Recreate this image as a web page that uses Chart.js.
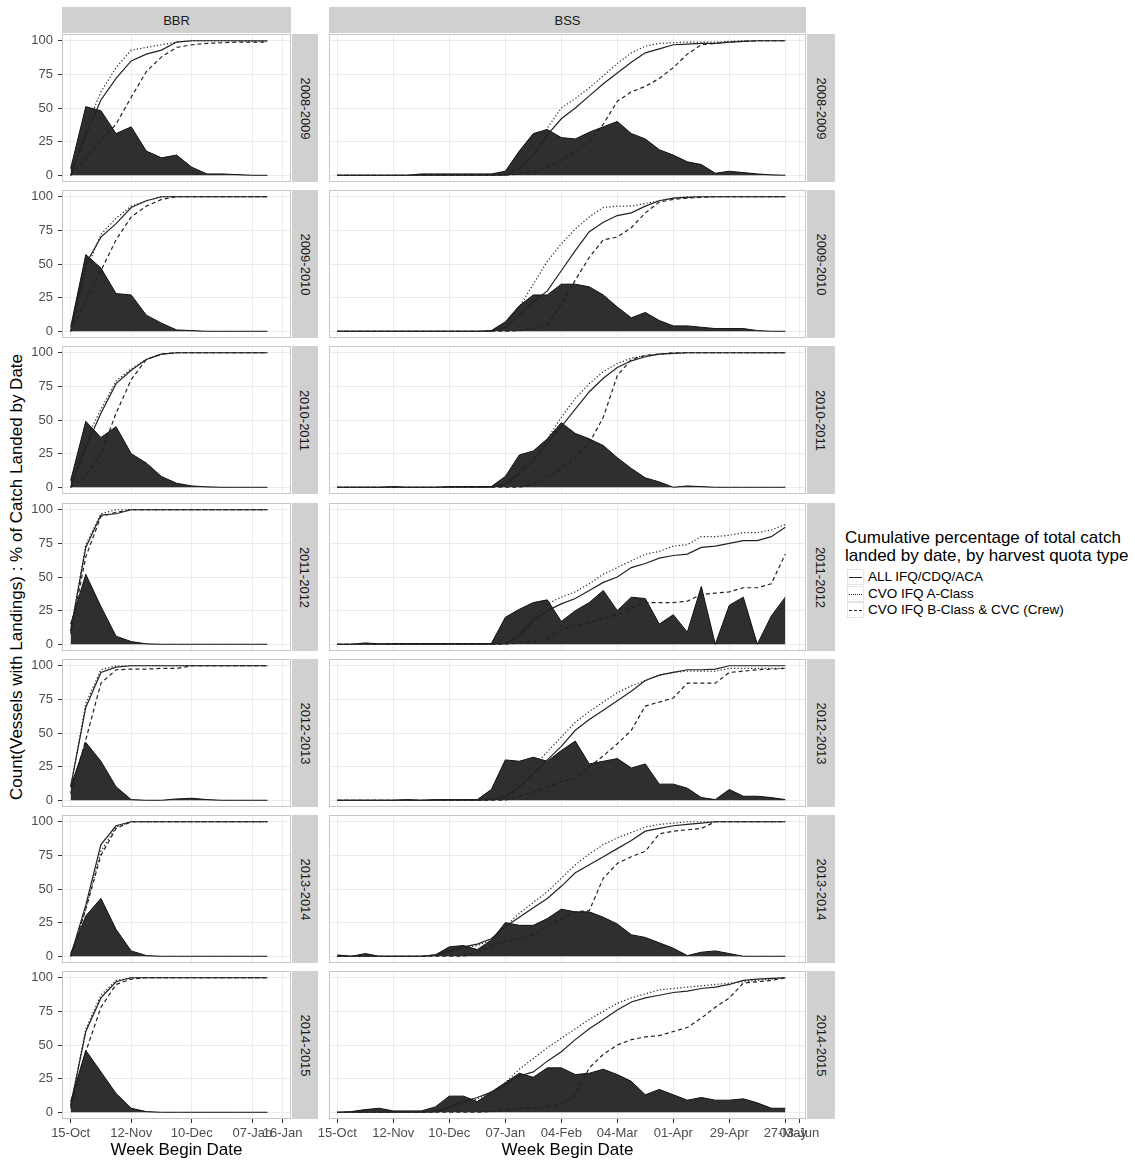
<!DOCTYPE html>
<html>
<head>
<meta charset="utf-8">
<script src="https://cdn.jsdelivr.net/npm/chart.js@4.4.0/dist/chart.umd.min.js"></script>
<style>
  body { margin: 0; background: #fff; font-family: 'Liberation Sans', Arial, Helvetica, sans-serif; }
  #page { position: relative; width: 1135px; height: 1161px; overflow: hidden; background: #fff; }
  #page canvas { position: absolute; }
  .strip { position: absolute; background: #d0d0d0; color: #1a1a1a; font-size: 13px;
           display: flex; align-items: center; justify-content: center; }
  .strip.right span { display: block; transform: rotate(90deg); white-space: nowrap; }
  .frame { position: absolute; border: 1px solid #c6c6c6; box-sizing: border-box; pointer-events: none; }
  #ytitle { position: absolute; left: 17px; top: 577px; font-size: 17px; color: #000; white-space: nowrap;
            transform: translate(-50%, -50%) rotate(-90deg); }
  #legend { position: absolute; left: 845px; top: 529px; color: #000; }
  #legend .ltitle { font-size: 17px; line-height: 18px; margin-bottom: 4px; }
  #legend .item { position: relative; height: 16.7px; font-size: 13.5px; line-height: 16.7px; padding-left: 23px; }
  #legend .key { position: absolute; left: 2px; top: 0; width: 17px; height: 16px; border: 1px solid #e4e4e4; box-sizing: border-box; }
  #legend .key i { position: absolute; left: 1px; right: 1px; top: 7px; height: 0; border-top-width: 1.3px; border-top-color: #262626; }
</style>
</head>
<body>
<div id="page">
  <div id="ytitle">Count(Vessels with Landings) : % of Catch Landed by Date</div>
  <div id="legend">
    <div class="ltitle">Cumulative percentage of total catch<br>landed by date, by harvest quota type</div>
    <div class="item"><span class="key"><i style="border-top-style: solid"></i></span>ALL IFQ/CDQ/ACA</div>
    <div class="item"><span class="key"><i style="border-top-style: dotted"></i></span>CVO IFQ A-Class</div>
    <div class="item"><span class="key"><i style="border-top-style: dashed"></i></span>CVO IFQ B-Class &amp; CVC (Crew)</div>
  </div>
</div>
<script>
Chart.defaults.font.family = "'Liberation Sans', Arial, Helvetica, sans-serif";

const seasons = ['2008-2009', '2009-2010', '2010-2011', '2011-2012', '2012-2013', '2013-2014', '2014-2015'];

// week begin dates, as days after 15-Oct
const bbrDays = [0, 7, 14, 21, 28, 35, 42, 49, 56, 63, 70, 77, 84, 91];
const bssDays = [0, 7, 14, 21, 28, 35, 42, 49, 56, 63, 70, 77, 84, 91, 98, 105, 112, 119, 126, 133,
                 140, 147, 154, 161, 168, 175, 182, 189, 196, 203, 210, 217, 224];

const bbrTickDays = [0, 28, 56, 84, 98];
const bbrTickLabels = ['15-Oct', '12-Nov', '10-Dec', '07-Jan', '16-Jan'];
const bssTickDays = [0, 28, 56, 84, 112, 140, 168, 196, 224, 231];
const bssTickLabels = ['15-Oct', '12-Nov', '10-Dec', '07-Jan', '04-Feb', '04-Mar', '01-Apr', '29-Apr', '27-May', '03-Jun'];
const yTicks = [0, 25, 50, 75, 100];

// BBR, one row per season
const bbrVessels = [
  [5, 51, 48, 31, 36, 18, 13, 15, 6, 1, 1, 0.5, 0, 0],
  [3, 57, 47, 28, 27, 12, 6, 1, 0.5, 0, 0, 0, 0, 0],
  [5, 49, 37, 45, 25, 18, 8, 3, 1, 0.3, 0, 0, 0, 0],
  [15, 52, 28, 6, 2, 0.3, 0, 0, 0, 0, 0, 0, 0, 0],
  [10, 43, 29, 10, 0.5, 0, 0, 1, 1.5, 0.5, 0, 0, 0, 0],
  [2, 30, 43, 20, 4, 0.5, 0, 0, 0, 0, 0, 0, 0, 0],
  [8, 46, 30, 14, 3, 0.5, 0, 0, 0, 0, 0, 0, 0, 0]
];
const bbrAll = [
  [0, 30, 56, 72, 85, 90, 93, 99, 100, 100, 100, 100, 100, 100],
  [0, 50, 70, 80, 92, 97, 100, 100, 100, 100, 100, 100, 100, 100],
  [0, 30, 55, 77, 87, 95, 99, 100, 100, 100, 100, 100, 100, 100],
  [10, 72, 96, 97, 100, 100, 100, 100, 100, 100, 100, 100, 100, 100],
  [10, 69, 95, 99, 100, 100, 100, 100, 100, 100, 100, 100, 100, 100],
  [0, 38, 83, 97, 100, 100, 100, 100, 100, 100, 100, 100, 100, 100],
  [5, 60, 85, 97, 100, 100, 100, 100, 100, 100, 100, 100, 100, 100]
];
const bbrClassA = [
  [0, 35, 62, 80, 93, 95, 97, 99, 100, 100, 100, 100, 99.5, 99.5],
  [0, 45, 72, 84, 93, 97, 100, 100, 100, 100, 100, 100, 100, 100],
  [0, 35, 58, 79, 88, 95, 99, 100, 100, 100, 100, 100, 100, 100],
  [10, 74, 97, 100, 100, 100, 100, 100, 100, 100, 100, 100, 100, 100],
  [10, 72, 97, 100, 100, 100, 100, 100, 100, 100, 100, 100, 100, 100],
  [0, 35, 78, 96, 100, 100, 100, 100, 100, 100, 100, 100, 100, 100],
  [5, 62, 87, 98, 100, 100, 100, 100, 100, 100, 100, 100, 100, 100]
];
const bbrClassB = [
  [0, 13, 26, 38, 58, 77, 88, 95, 97, 98, 98.5, 99, 99, 99],
  [0, 22, 45, 68, 85, 93, 98, 100, 100, 100, 100, 100, 100, 100],
  [0, 8, 25, 55, 80, 95, 99, 100, 100, 100, 100, 100, 100, 100],
  [8, 65, 95, 98, 100, 100, 100, 100, 100, 100, 100, 100, 100, 100],
  [5, 45, 87, 97, 97.5, 97.5, 98, 98, 100, 100, 100, 100, 100, 100],
  [0, 35, 75, 95, 100, 100, 100, 100, 100, 100, 100, 100, 100, 100],
  [3, 45, 78, 95, 99, 100, 100, 100, 100, 100, 100, 100, 100, 100]
];

// BSS, one row per season
const bssVessels = [
  [0, 0, 0, 0, 0, 0, 1, 1, 1, 1, 1, 1, 3, 18, 31, 34, 28, 27, 32, 36, 40, 31, 27, 19, 15, 10, 8, 1.5, 3, 2, 1, 0.3, 0],
  [0, 0, 0, 0, 0, 0, 0, 0, 0, 0, 0, 0.5, 7, 19, 27, 27, 35, 35, 33, 27, 18, 10, 14, 8, 4, 4, 3, 2, 2, 2, 0.5, 0, 0],
  [0, 0, 0, 0, 0.5, 0, 0, 0, 0.5, 0.5, 0.5, 0.5, 8, 24, 27, 36, 48, 40, 36, 31, 22, 14, 7, 4, 0, 1, 0.5, 0, 0, 0, 0, 0, 0],
  [0, 0, 1, 0.3, 0.5, 0.5, 0.5, 0.5, 0.5, 0.5, 0.5, 0.5, 20, 26, 31, 33, 17, 25, 31, 40, 25, 35, 34, 15, 22, 9, 43, 0, 29, 35, 0, 21, 35],
  [0, 0, 0, 0, 0, 0.5, 0, 0.5, 0.5, 0.5, 0.5, 8, 30, 29, 32, 29, 37, 44, 27, 29, 31, 24, 27, 12, 12, 9, 2, 0.5, 8, 3, 3, 2, 0.5],
  [1, 0, 2, 0, 0, 0, 0, 1, 7, 8, 5, 12, 25, 23, 23, 28, 35, 33, 33, 29, 24, 16, 14, 10, 6, 0.5, 3, 4, 2, 0, 0, 0, 0],
  [0, 0.5, 2, 3, 1, 1, 1, 4, 12, 12, 8, 15, 22, 29, 26, 33, 33, 28, 29, 32, 28, 23, 13, 17, 13, 9, 11, 9, 9, 10, 7, 3, 3]
];
const bssAll = [
  [0, 0, 0, 0, 0, 0, 0, 0, 0, 0, 0, 0, 0, 5, 15, 30, 42, 50, 59, 68, 76, 84, 91, 94, 97, 97.5, 98, 98, 99, 99.5, 100, 100, 100],
  [0, 0, 0, 0, 0, 0, 0, 0, 0, 0, 0, 0, 3, 12, 22, 30, 45, 60, 74, 81, 86, 88, 93, 97, 99, 99.5, 100, 100, 100, 100, 100, 100, 100],
  [0, 0, 0, 0, 0, 0, 0, 0, 0, 0, 0, 0, 2, 10, 20, 33, 45, 58, 71, 81, 89, 94, 97, 99, 99.5, 100, 100, 100, 100, 100, 100, 100, 100],
  [0, 0, 0, 0, 0, 0, 0, 0, 0, 0, 0, 0, 0.5, 6, 18, 25, 30, 34, 40, 46, 50, 57, 60, 64, 66, 67, 72, 73, 75, 77, 77, 80, 87],
  [0, 0, 0, 0, 0, 0, 0, 0, 0, 0, 0, 0.5, 2, 10, 20, 30, 40, 52, 60, 67, 74, 81, 89, 93, 95, 97, 97, 97.5, 100, 100, 100, 100, 100],
  [0, 0, 0, 0, 0, 0, 0, 1, 4, 7, 9, 13, 22, 29, 36, 43, 52, 62, 68, 74, 80, 86, 93, 95, 97, 98, 99, 100, 100, 100, 100, 100, 100],
  [0, 0, 0, 0, 0, 0, 0, 0.5, 4, 8, 11, 15, 20, 27, 30, 38, 45, 54, 62, 69, 76, 82, 85, 87, 89, 90, 92, 93, 95, 98, 99, 99.5, 100]
];
const bssClassA = [
  [0, 0, 0, 0, 0, 0, 0, 0, 0, 0, 0, 0, 1, 10, 22, 35, 50, 57, 65, 74, 83, 91, 96, 98, 98.5, 99, 99, 99, 99.5, 100, 100, 100, 100],
  [0, 0, 0, 0, 0, 0, 0, 0, 0, 0, 0, 0, 5, 18, 35, 52, 65, 76, 85, 92, 93, 93, 95, 97, 99, 100, 100, 100, 100, 100, 100, 100, 100],
  [0, 0, 0, 0, 0, 0, 0, 0, 0, 0, 0, 0, 3, 12, 22, 36, 52, 66, 77, 86, 92, 96, 98, 99, 99.5, 100, 100, 100, 100, 100, 100, 100, 100],
  [0, 0, 0, 0, 0, 0, 0, 0, 0, 0, 0, 0, 1, 8, 20, 30, 35, 39, 45, 52, 57, 62, 67, 69, 73, 74, 80, 80, 81, 83, 83, 85, 89],
  [0, 0, 0, 0, 0, 0, 0, 0, 0, 0, 0, 0.5, 4, 14, 25, 36, 47, 58, 66, 73, 80, 85, 89, 93, 95, 96, 96, 96, 98, 98, 98, 98, 98],
  [0, 0, 0, 0, 0, 0, 0, 0.5, 3, 6, 8, 12, 22, 32, 40, 48, 58, 68, 76, 83, 88, 92, 96, 98, 99, 100, 100, 100, 100, 100, 100, 100, 100],
  [0, 0, 0, 0, 0, 0, 0, 0, 3, 7, 10, 15, 22, 32, 40, 48, 55, 62, 69, 75, 81, 85, 88, 91, 92, 93, 94, 95, 96, 97, 98, 99, 100]
];
const bssClassB = [
  [0, 0, 0, 0, 0, 0, 0, 0, 0, 0, 0, 0, 0, 1, 3, 6, 11, 18, 25, 38, 55, 62, 66, 72, 80, 90, 97, 98, 99, 99.5, 100, 100, 100],
  [0, 0, 0, 0, 0, 0, 0, 0, 0, 0, 0, 0, 0, 0.5, 2, 5, 20, 38, 55, 68, 70, 77, 88, 96, 98, 99, 99.5, 100, 100, 100, 100, 100, 100],
  [0, 0, 0, 0, 0, 0, 0, 0, 0, 0, 0, 0, 0, 0, 2, 8, 14, 22, 33, 52, 83, 95, 98, 99, 100, 100, 100, 100, 100, 100, 100, 100, 100],
  [0, 0, 0, 0, 0, 0, 0, 0, 0, 0, 0, 0, 0, 1, 2, 4, 11, 14, 16, 19, 22, 27, 31, 31, 31, 32, 37, 38, 39, 42, 42, 45, 67],
  [0, 0, 0, 0, 0, 0, 0, 0, 0, 0, 0, 0, 0, 3, 6, 10, 14, 16, 25, 33, 42, 52, 70, 73, 76, 87, 87, 87, 95, 96, 97, 97.5, 98],
  [0, 0, 0, 0, 0, 0, 0, 0, 0, 0, 3, 8, 11, 13, 16, 22, 28, 33, 34, 58, 69, 74, 78, 91, 93, 94, 95, 100, 100, 100, 100, 100, 100],
  [0, 0, 0, 0, 0, 0, 0, 0, 0, 0, 0, 0.5, 2, 3, 3, 4, 6, 13, 33, 43, 50, 54, 56, 57, 60, 63, 70, 78, 85, 96, 97, 98, 100]
];

const rowTop = [34, 190, 346, 503, 659, 815, 971];
const panelH = 148;
const pageH = 1161;

const columns = [
  { name: 'BBR', left: 62, width: 229, xMin: -4, xMax: 101.9, stripLeft: 292, stripW: 26,
    days: bbrDays, tickDays: bbrTickDays, tickLabels: bbrTickLabels,
    vessels: bbrVessels, all: bbrAll, classA: bbrClassA, classB: bbrClassB },
  { name: 'BSS', left: 329, width: 477, xMin: -4.15, xMax: 234.35, stripLeft: 807, stripW: 28,
    days: bssDays, tickDays: bssTickDays, tickLabels: bssTickLabels,
    vessels: bssVessels, all: bssAll, classA: bssClassA, classB: bssClassB }
];

const page = document.getElementById('page');

function addDiv(cls, left, top, width, height, html) {
  const d = document.createElement('div');
  d.className = cls;
  d.style.left = left + 'px';
  d.style.top = top + 'px';
  d.style.width = width + 'px';
  d.style.height = height + 'px';
  if (html) d.innerHTML = html;
  page.appendChild(d);
  return d;
}

function points(days, values) {
  return days.map((d, i) => ({ x: d, y: values[i] }));
}

function drawPanel(col, r) {
  const first = col.name === 'BBR';
  const last = r === seasons.length - 1;
  const padL = first ? 0 : 20, padR = 20, padT = 16;
  const padB = last ? 0 : 16;
  const yW = first ? col.left : 0;
  // bottom row: axis box runs 2px past the page edge so the title sits a bit lower
  const xH = last ? pageH + 2 - (rowTop[r] + panelH) : 0;
  const w = yW + padL + col.width + padR;
  const h = padT + panelH + xH + padB;

  const cv = document.createElement('canvas');
  cv.width = w;
  cv.height = h;
  cv.style.left = (col.left - yW - padL) + 'px';
  cv.style.top = (rowTop[r] - padT) + 'px';
  cv.style.width = w + 'px';
  cv.style.height = h + 'px';
  page.appendChild(cv);

  const line = { borderColor: '#222', borderWidth: 1.2, pointRadius: 0, fill: false, tension: 0 };

  new Chart(cv, {
    type: 'line',
    data: {
      datasets: [
        { ...line, label: 'ALL IFQ/CDQ/ACA', data: points(col.days, col.all[r]) },
        { ...line, label: 'CVO IFQ A-Class', borderDash: [1.2, 2.2], data: points(col.days, col.classA[r]) },
        { ...line, label: 'CVO IFQ B-Class & CVC (Crew)', borderDash: [4, 3], data: points(col.days, col.classB[r]) },
        { label: 'Vessels with landings', data: points(col.days, col.vessels[r]),
          borderColor: '#111', borderWidth: 1, backgroundColor: '#2f2f2f',
          fill: 'origin', pointRadius: 0, tension: 0 }
      ]
    },
    options: {
      responsive: false,
      animation: false,
      devicePixelRatio: 1,
      layout: { padding: { left: padL, right: padR, top: padT, bottom: padB } },
      plugins: { legend: { display: false }, tooltip: { enabled: false } },
      scales: {
        x: {
          type: 'linear', min: col.xMin, max: col.xMax,
          afterBuildTicks: s => { s.ticks = col.tickDays.map(v => ({ value: v })); },
          afterFit: s => { s.height = xH; },
          border: { display: false },
          grid: { color: '#ebebeb', drawTicks: last, tickLength: 4, tickColor: '#333' },
          ticks: { display: last, autoSkip: false, maxRotation: 0, padding: 3, color: '#4d4d4d',
                   font: { size: 13 }, callback: (v, i) => col.tickLabels[i] },
          title: { display: last, text: 'Week Begin Date', color: '#000', font: { size: 17 },
                   padding: { top: 0, bottom: 2 } }
        },
        y: {
          min: -5, max: 105,
          afterBuildTicks: s => { s.ticks = yTicks.map(v => ({ value: v })); },
          afterFit: s => { s.width = yW; },
          border: { display: false },
          grid: { color: '#ebebeb', drawTicks: first, tickLength: 4, tickColor: '#333' },
          ticks: { display: first, padding: 5, color: '#4d4d4d', font: { size: 13 } }
        }
      }
    }
  });
}

columns.forEach(col => {
  addDiv('strip', col.left, 7, col.width, 26, col.name);
  seasons.forEach((s, r) => {
    addDiv('strip right', col.stripLeft, rowTop[r], col.stripW, panelH, '<span>' + s + '</span>');
  });
});

columns.forEach(col => seasons.forEach((s, r) => drawPanel(col, r)));

columns.forEach(col => seasons.forEach((s, r) => addDiv('frame', col.left, rowTop[r], col.width, panelH)));
</script>
</body>
</html>
